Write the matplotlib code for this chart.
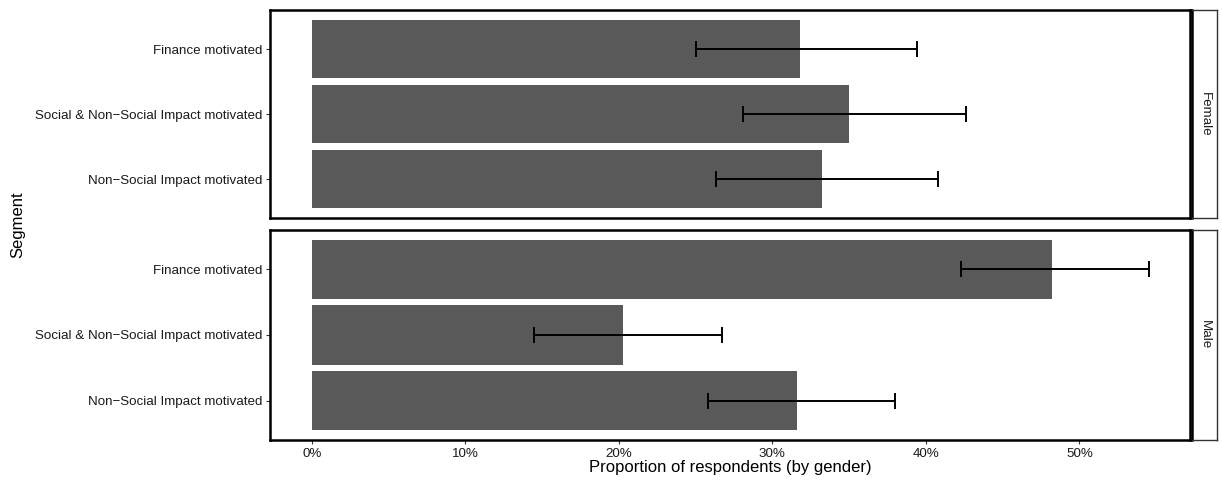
import matplotlib.pyplot as plt
from matplotlib.ticker import FuncFormatter

plt.rcParams['font.family'] = ['Liberation Sans', 'DejaVu Sans']

# segments, listed bottom to top as ggplot stacks them
segments = ["Non\u2212Social Impact motivated",
            "Social & Non\u2212Social Impact motivated",
            "Finance motivated"]
genders = ["Female", "Male"]

# proportions (%) and confidence limits, per gender, same order as segments
prop = {"Female": [33.2, 35.0, 31.8], "Male": [31.6, 20.3, 48.2]}
low = {"Female": [26.3, 28.1, 25.0], "Male": [25.8, 14.5, 42.3]}
high = {"Female": [40.8, 42.6, 39.4], "Male": [38.0, 26.7, 54.5]}

W, H = 1222, 486
fig = plt.figure(figsize=(W / 100, H / 100), dpi=100)

# panel rectangles in pixels: left, top, right, bottom
panels = {"Female": (270, 10, 1190, 218), "Male": (270, 230, 1190, 440)}
strip_w = 25

pct = FuncFormatter(lambda v, p: f"{v:.0f}%")
ypos = list(range(1, len(segments) + 1))

for g in genders:
    l, t, r, b = panels[g]
    ax = fig.add_axes([l / W, 1 - b / H, (r - l) / W, (b - t) / H])
    vals = prop[g]
    ax.barh(ypos, vals, height=0.9, color="#595959", zorder=1)
    xerr = [[v - lo for v, lo in zip(vals, low[g])],
            [hi - v for v, hi in zip(vals, high[g])]]
    ax.errorbar(vals, ypos, xerr=xerr, fmt="none", ecolor="black",
                elinewidth=1.4, capsize=6, capthick=1.4, zorder=2)
    ax.set_xlim(-2.72, 57.2)
    ax.set_ylim(0.4, len(segments) + 0.6)
    ax.set_yticks(ypos)
    ax.set_yticklabels(segments)
    ax.set_xticks([0, 10, 20, 30, 40, 50])
    ax.xaxis.set_major_formatter(pct)
    ax.tick_params(axis="both", length=3, width=0.8, color="#333333",
                   labelsize=9.6, labelcolor="#1a1a1a", pad=2.5)
    for s in ax.spines.values():
        s.set_linewidth(1.8)
        s.set_color("black")
    if g != genders[-1]:
        ax.tick_params(axis="x", bottom=False, labelbottom=False)

    # facet strip on the right
    sax = fig.add_axes([(r + 2) / W, 1 - b / H, strip_w / W, (b - t) / H])
    sax.set_xticks([])
    sax.set_yticks([])
    for s in sax.spines.values():
        s.set_linewidth(1.0)
        s.set_color("#333333")
    sax.spines["left"].set_linewidth(1.8)
    sax.spines["left"].set_color("black")
    sax.text(0.5, 0.5, g, rotation=-90, ha="center", va="center",
             fontsize=9.6, color="#1a1a1a", transform=sax.transAxes)

fig.text(730 / W, 1 - 467 / H, "Proportion of respondents (by gender)",
         ha="center", va="center", fontsize=12)
fig.text(18 / W, 1 - 225 / H, "Segment", rotation=90,
         ha="center", va="center", fontsize=12)

fig.savefig("out.png", dpi=100)
